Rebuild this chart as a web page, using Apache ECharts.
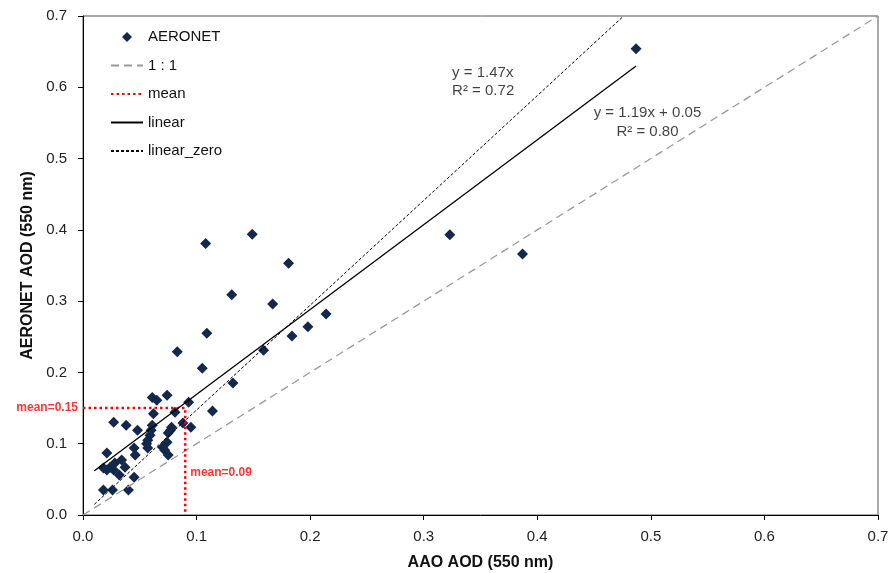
<!DOCTYPE html>
<html>
<head>
<meta charset="utf-8">
<title>AERONET vs AAO AOD</title>
<script src="https://cdn.jsdelivr.net/npm/echarts@6/dist/echarts.min.js"></script>
<style>
  html, body { margin: 0; padding: 0; background: #fff; }
  #chart { width: 889px; height: 573px; }
</style>
</head>
<body>
<div id="chart"></div>
<script>
// AAO AOD (x) vs AERONET AOD (y)
var aaoAod = [0.487, 0.323, 0.387, 0.149, 0.108, 0.181, 0.131, 0.167, 0.109, 0.214,
  0.198, 0.184, 0.159, 0.083, 0.105, 0.132, 0.061, 0.065, 0.074, 0.093,
  0.114, 0.095, 0.081, 0.062, 0.027, 0.038, 0.048, 0.088, 0.061, 0.060,
  0.059, 0.057, 0.056, 0.057, 0.078, 0.077, 0.075, 0.074, 0.070, 0.072,
  0.075, 0.045, 0.046, 0.021, 0.034, 0.028, 0.024, 0.027, 0.032, 0.045,
  0.018, 0.026, 0.040, 0.037, 0.021, 0.018];
var aeronetAod = [0.654, 0.393, 0.366, 0.394, 0.381, 0.353, 0.309, 0.296, 0.255, 0.282,
  0.264, 0.251, 0.231, 0.229, 0.206, 0.185, 0.165, 0.161, 0.168, 0.158,
  0.146, 0.123, 0.144, 0.142, 0.130, 0.126, 0.119, 0.129, 0.126, 0.119,
  0.112, 0.105, 0.100, 0.094, 0.123, 0.119, 0.115, 0.102, 0.095, 0.091,
  0.084, 0.094, 0.084, 0.087, 0.077, 0.073, 0.067, 0.063, 0.056, 0.053,
  0.035, 0.035, 0.035, 0.067, 0.063, 0.066];

var oneToOne = [[0, 0], [0.7, 0.7]];
var linearFit = [[0.01, 0.062], [0.487, 0.63]];
var linearZeroFit = [[0.01, 0.015], [0.476, 0.7]];
var meanLine = [[0, 0.15], [0.09, 0.15], [0.09, 0]];

var legendNames = ["AERONET", "1 : 1", "mean", "linear", "linear_zero"];

(function() {
  var myChart = echarts.init(document.getElementById("chart"));

  var points = aaoAod.map(function(x, i) { return [x, aeronetAod[i]]; });
  var font = "Liberation Sans, Arial, sans-serif";
  var diamond = "path://M0,-1L1,0L0,1L-1,0Z";

  var option = {
    backgroundColor: "#fff",
    animation: false,
    textStyle: { fontFamily: font },
    grid: {
      left: 83, right: 11, top: 16, bottom: 58,
      outerBoundsMode: "none",
      show: true, borderColor: "#555", borderWidth: 1
    },
    legend: {
      orient: "vertical",
      left: 105,
      top: 24.5,
      itemWidth: 32,
      itemHeight: 10,
      itemGap: 13.5,
      textStyle: { fontSize: 15, color: "#111", fontFamily: font },
      data: legendNames.map(function(n, i) {
        if (i === 0) return { name: n, icon: diamond };
        return { name: n, itemStyle: { opacity: 0 } };
      })
    },
    xAxis: {
      type: "value",
      min: 0, max: 0.7, interval: 0.1,
      name: "AAO AOD (550 nm)",
      nameLocation: "middle",
      nameGap: 40,
      nameTextStyle: { fontSize: 16, fontWeight: "bold", color: "#111", fontFamily: font },
      axisLine: { show: true, lineStyle: { color: "#000", width: 1 } },
      axisTick: { show: true, inside: false, length: 5, lineStyle: { color: "#000" } },
      axisLabel: {
        fontSize: 15, color: "#222", margin: 14,
        formatter: function(v) { return v.toFixed(1); }
      },
      splitLine: { show: false }
    },
    yAxis: {
      type: "value",
      min: 0, max: 0.7, interval: 0.1,
      name: "AERONET AOD (550 nm)",
      nameLocation: "middle",
      nameGap: 40,
      nameTextStyle: { fontSize: 16, fontWeight: "bold", color: "#111", fontFamily: font },
      axisLine: { show: true, lineStyle: { color: "#000", width: 1 } },
      axisTick: { show: true, inside: false, length: 5, lineStyle: { color: "#000" } },
      axisLabel: {
        fontSize: 15, color: "#222", margin: 16,
        formatter: function(v) { return v.toFixed(1); }
      },
      splitLine: { show: false }
    },
    series: [
      {
        name: "AERONET",
        type: "scatter",
        symbol: diamond,
        symbolSize: 11,
        symbolKeepAspect: true,
        itemStyle: { color: "#13284a", opacity: 1 },
        z: 2,
        data: points
      },
      {
        name: "1 : 1",
        type: "line",
        symbol: "none",
        itemStyle: { color: "#9a9a9a" },
        lineStyle: { color: "#9a9a9a", width: 1.3, type: [8, 5] },
        z: 3,
        data: oneToOne
      },
      {
        name: "mean",
        type: "line",
        symbol: "none",
        itemStyle: { color: "#ff0000" },
        lineStyle: { color: "#ff0000", width: 2.5, type: [2.5, 3] },
        z: 3,
        data: meanLine
      },
      {
        name: "linear",
        type: "line",
        symbol: "none",
        itemStyle: { color: "#000" },
        lineStyle: { color: "#000", width: 1.3, type: "solid" },
        z: 4,
        data: linearFit
      },
      {
        name: "linear_zero",
        type: "line",
        symbol: "none",
        itemStyle: { color: "#000" },
        lineStyle: { color: "#000", width: 1, type: [3, 2] },
        z: 4,
        data: linearZeroFit
      },
      {
        // text annotations
        name: "notes",
        type: "scatter",
        symbolSize: 0,
        silent: true,
        z: 5,
        data: [
          {
            value: [0.325, 0.6325],
            label: {
              show: true, position: [0, 0], align: "left", verticalAlign: "top",
              formatter: "y = 1.47x\nR² = 0.72",
              fontSize: 15, lineHeight: 18, color: "#111", fontFamily: font
            }
          },
          {
            value: [0.497, 0.578],
            label: {
              show: true, position: [0, 0], align: "center", verticalAlign: "top",
              formatter: "y = 1.19x + 0.05\nR² = 0.80",
              fontSize: 15, lineHeight: 19, color: "#111", fontFamily: font
            }
          },
          {
            value: [0, 0.15],
            label: {
              show: true, position: "left", distance: 5,
              formatter: "mean=0.15",
              fontSize: 12, fontWeight: "bold", color: "#ff0000", fontFamily: font
            }
          },
          {
            value: [0.09, 0.059],
            label: {
              show: true, position: "right", distance: 5,
              formatter: "mean=0.09",
              fontSize: 12, fontWeight: "bold", color: "#ff0000", fontFamily: font
            }
          }
        ]
      }
    ]
  };

  myChart.setOption(option);
})();
</script>
</body>
</html>
